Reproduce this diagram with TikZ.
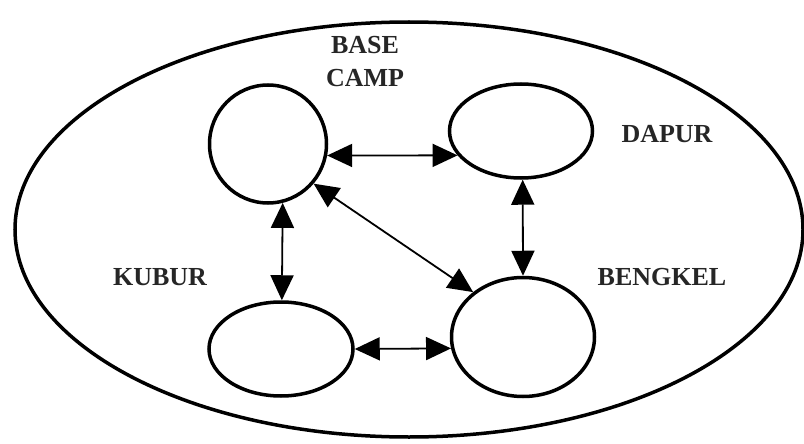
\documentclass[tikz,border=0pt]{standalone}
\usepackage{fontspec}
\setmainfont{Liberation Serif}
\usetikzlibrary{arrows.meta,shapes.geometric}
\begin{document}
\begin{tikzpicture}[x=1pt,y=-1pt,
  place/.style={draw=black, ellipse, line width=3.5pt, inner sep=0pt},
  lbl/.style={font=\fontsize{26}{33}\selectfont\bfseries, text=black!85, inner sep=0pt, align=center},
  link/.style={line width=1.8pt, {Triangle[length=25pt,width=23pt]}-{Triangle[length=25pt,width=23pt]}}
]
\useasboundingbox[fill=white] (0,0) rectangle (804,444);
\node[place, minimum width=788pt, minimum height=415pt] (world) at (409,229.5) {};
\node[place, minimum width=117pt, minimum height=118pt] (base) at (268,144) {};
\node[place, minimum width=143pt, minimum height=94pt] (dapur) at (521,131) {};
\node[place, minimum width=144pt, minimum height=94pt] (kubur) at (281,349) {};
\node[place, minimum width=143pt, minimum height=119pt] (bengkel) at (523,337) {};
\node[lbl] (lbase) at (365,61.5) {BASE\\CAMP};
\node[lbl] (ldapur) at (667,134) {DAPUR};
\node[lbl] (lkubur) at (160,277) {KUBUR};
\node[lbl] (lbengkel) at (662,277.5) {BENGKEL};
\draw[link] (base.-11.4) -- (dapur.201.7);
\draw[link] (base.-76.4) -- (kubur.89);
\draw[link] (dapur.-88.5) -- (bengkel.90);
\draw[link] (kubur.0) -- (bengkel.189.5);
\draw[link] (base.-41.3) -- (bengkel.138.4);
\end{tikzpicture}
\end{document}
